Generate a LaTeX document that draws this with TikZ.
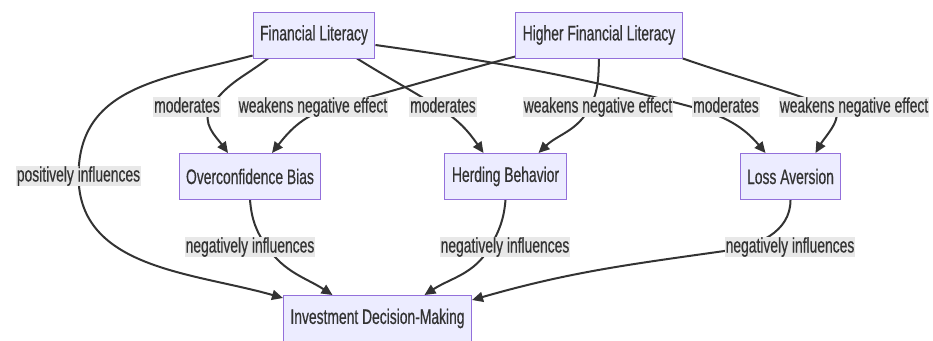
\documentclass[tikz,border=0pt]{standalone}
\usepackage{fontspec}
\setmainfont{Liberation Sans}[FakeStretch=0.66,FakeBold=0.5]
\usetikzlibrary{arrows.meta}
\usetikzlibrary{backgrounds}
\definecolor{boxFill}{HTML}{ECECFF}
\definecolor{boxLine}{HTML}{9370DB}
\definecolor{inkGray}{HTML}{333333}
\definecolor{labelFill}{HTML}{E8E8E8}
\tikzset{
    factor/.style={
        ,   draw=boxLine
        ,   fill=boxFill
        ,   line width=1pt
        ,   text=inkGray
        ,   minimum height=46pt
        ,   inner xsep=7pt
    },
    edgeLabel/.style={
        ,   fill=labelFill
        ,   text=inkGray
        ,   inner xsep=1pt
        ,   inner ysep=0.5pt
        ,   text height=15pt
        ,   text depth=4pt
    },
    link/.style={
        ,   draw=inkGray
        ,   line width=2pt
    },
    linkArrow/.style={
        ,   link
        ,   -{Triangle[length=11pt,width=10pt]}
    }
}

\begin{document}
\begin{tikzpicture}[x=1pt, y=-1pt, font={\fontsize{21}{24}\selectfont}]
\useasboundingbox (0,0) rectangle (933,340);

\node[factor] (FL)  at (314,35)      {Financial Literacy};
\node[factor] (HFL) at (599,35)      {Higher Financial Literacy};
\node[factor] (OB)  at (250,176.5)   {Overconfidence Bias};
\node[factor] (HB)  at (505.5,176.5) {Herding Behavior};
\node[factor] (LA)  at (790.5,176.5) {Loss Aversion};
\node[factor] (IDM) at (377.5,318.5) {Investment Decision-Making};

% labels of the upper row of edges
\node[edgeLabel] (mOB) at (187,107)  {moderates};
\node[edgeLabel] (wOB) at (313,107)  {weakens negative effect};
\node[edgeLabel] (mHB) at (443,107)  {moderates};
\node[edgeLabel] (wHB) at (598,107)  {weakens negative effect};
\node[edgeLabel] (mLA) at (726,107)  {moderates};
\node[edgeLabel] (wLA) at (854,107)  {weakens negative effect};
% labels of the lower row
\node[edgeLabel] (pID) at (78.5,176) {positively influences};
\node[edgeLabel] (nOB) at (250,247)  {negatively influences};
\node[edgeLabel] (nHB) at (505,247)  {negatively influences};
\node[edgeLabel] (nLA) at (790,247)  {negatively influences};

\begin{scope}[on background layer]
% Financial Literacy out
\draw[linkArrow] ([xshift=-46pt]FL.south) to[out=-142,in=57] ([xshift=24pt]mOB.center)
    to[out=-123,in=126] ([xshift=-22pt]OB.north);
\draw[linkArrow] ([xshift=43pt]FL.south) to[out=-32,in=148] ([xshift=-5pt]mHB.center)
    to[out=-32,in=125] ([xshift=-22pt]HB.north);
\draw[linkArrow] ([yshift=-10pt]FL.east) to[out=-8,in=165] (mLA.west)
    to[out=-15,in=130] ([xshift=-25pt]LA.north);
\draw[linkArrow] ([yshift=3pt]FL.south west) to[out=-165,in=90,looseness=1.1] (pID.center)
    to[out=-90,in=164] ([yshift=-3pt]IDM.north west);

% Higher Financial Literacy out
\draw[linkArrow] ([yshift=2pt]HFL.south west) to[out=-165,in=15] ([xshift=20pt]wOB.center)
    to[out=-165,in=52] ([xshift=22pt]OB.north);
\draw[linkArrow] (HFL.south) to[out=-92,in=63] ([xshift=-8pt]wHB.center)
    to[out=-117,in=44] ([xshift=33pt]HB.north);
\draw[linkArrow] (HFL.south east) to[out=-19,in=160] ([xshift=-24pt]wLA.center)
    to[out=-20,in=60] ([xshift=25pt]LA.north);

% biases into the decision
\draw[linkArrow] (OB.south) to[out=-85,in=125] ([xshift=17pt]nOB.center)
    to[out=-55,in=147] ([xshift=-45pt]IDM.north);
\draw[linkArrow] (HB.south) to[out=-95,in=60] ([xshift=-15pt]nHB.center)
    to[out=-120,in=33] ([xshift=47pt]IDM.north);
\draw[linkArrow] (LA.south) to[out=-90,in=8] ([yshift=-4pt]nLA.west)
    to[out=-172,in=16] ([yshift=-5pt]IDM.north east);
\end{scope}
\end{tikzpicture}
\end{document}
